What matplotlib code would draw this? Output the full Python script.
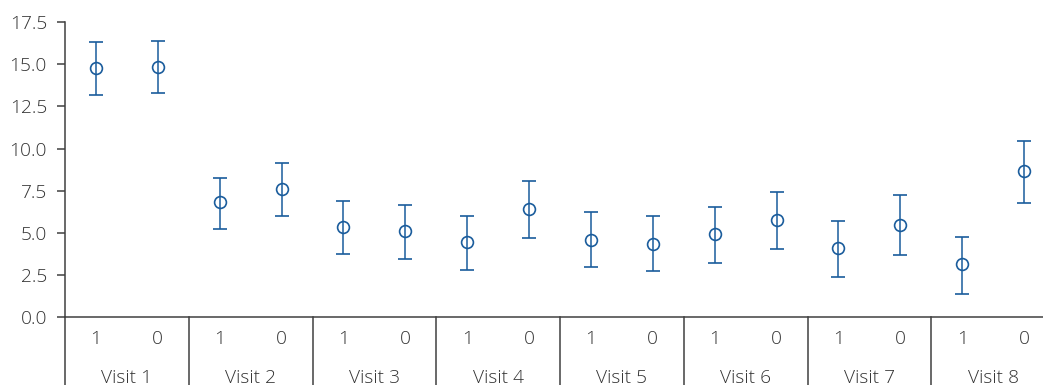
import numpy as np
import matplotlib
matplotlib.use('Agg')
import matplotlib.pyplot as plt
from matplotlib.ticker import FormatStrFormatter
import matplotlib.transforms as mtransforms

# Estimated means with lower/upper interval bounds, two groups per visit
visits = ['Visit 1', 'Visit 2', 'Visit 3', 'Visit 4',
          'Visit 5', 'Visit 6', 'Visit 7', 'Visit 8']
groups = ['1', '0']
means = [14.76, 14.83, 6.81, 7.60, 5.33, 5.11, 4.48, 6.42,
         4.60, 4.36, 4.94, 5.78, 4.09, 5.49, 3.14, 8.65]
lower = [13.17, 13.27, 5.23, 6.02, 3.75, 3.45, 2.80, 4.70,
         2.96, 2.74, 3.20, 4.05, 2.37, 3.67, 1.40, 6.77]
upper = [16.30, 16.39, 8.27, 9.14, 6.89, 6.65, 6.02, 8.06,
         6.24, 6.02, 6.55, 7.43, 5.73, 7.27, 4.78, 10.45]

line_color = '#1a5c9c'
text_color = '#333333'
axis_color = '#404040'

plt.rcParams['font.family'] = ['Open Sans', 'DejaVu Sans']
plt.rcParams['font.weight'] = 'light'
label_size = 13.8

fig = plt.figure(figsize=(10.43, 3.85), dpi=100)
ax = fig.add_axes([65 / 1043, 67.7 / 385, 990 / 1043, 295.3 / 385])

x = np.arange(len(means))
m = np.array(means)
yerr = np.vstack([m - np.array(lower), np.array(upper) - m])

ax.errorbar(x, m, yerr=yerr, fmt='o', mfc='none', mec=line_color,
            mew=1.2, ms=8.5, color=line_color, ecolor=line_color,
            elinewidth=1.1, capsize=5, capthick=1.1, zorder=3)

ax.set_xlim(-0.5, len(means) - 0.5)
ax.set_ylim(0, 17.5)
ax.set_yticks(np.arange(0, 17.6, 2.5))
ax.yaxis.set_major_formatter(FormatStrFormatter('%.1f'))

# inner category labels
ax.set_xticks(x)
ax.set_xticklabels(groups * len(visits))
ax.tick_params(axis='x', length=0, pad=9.5, labelsize=label_size,
               labelcolor=text_color)
ax.tick_params(axis='y', length=6, width=1.1, pad=7, labelsize=label_size,
               labelcolor=text_color, color=axis_color)

for side in ('top', 'right'):
    ax.spines[side].set_visible(False)
for side in ('left', 'bottom'):
    ax.spines[side].set_color(axis_color)
    ax.spines[side].set_linewidth(1.1)

# group separators below the axis and outer visit labels
trans = mtransforms.blended_transform_factory(ax.transData, ax.transAxes)
n = len(groups)
for i in range(len(visits) + 1):
    xb = i * n - 0.5
    ax.plot([xb, xb], [0, -0.3], transform=trans, color=axis_color,
            lw=1.1, clip_on=False)
for i, name in enumerate(visits):
    ax.annotate(name, xy=(i * n + (n - 1) / 2, 0), xycoords=trans,
                xytext=(0, -43.5), textcoords='offset points',
                ha='center', va='center', fontsize=label_size,
                color=text_color)

fig.savefig('out.png', dpi=100, facecolor='white')
